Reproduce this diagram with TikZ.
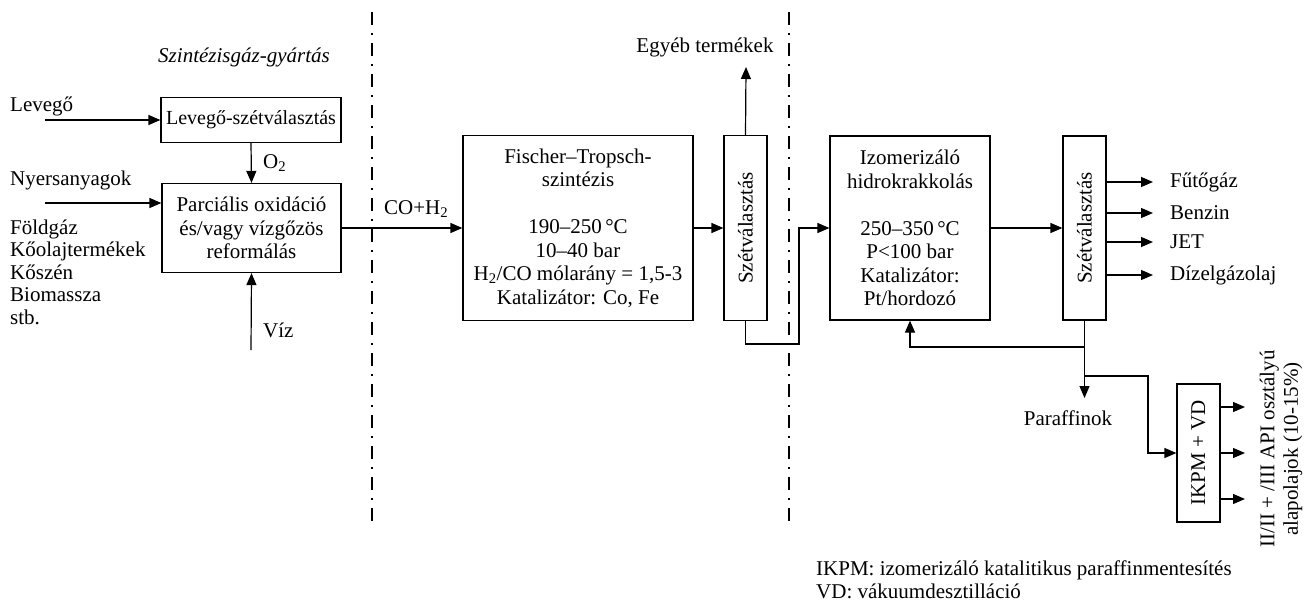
\documentclass[tikz,border=0pt]{standalone}
\usepackage{fontspec}
\setmainfont{Liberation Serif}
\usetikzlibrary{arrows.meta}
\newcommand\fsz{\fontsize{21bp}{23.5bp}\selectfont}
\begin{document}
\begin{tikzpicture}[x=1bp,y=-1bp,
  every node/.style={font=\fsz, inner sep=0pt},
  box/.style={draw, line width=1.2bp, align=center},
  flow/.style={line width=1.2bp, -{Triangle[length=12bp,width=10bp]}},
  plain/.style={line width=1.2bp},
  sepline/.style={line width=1.6bp, dash pattern=on 13bp off 8bp on 2bp off 8bp}]
\useasboundingbox (0,0) rectangle (1308,605);

% separators
\coordinate (s1a) at (372,12); \coordinate (s1b) at (372,523);
\coordinate (s2a) at (789,12); \coordinate (s2b) at (789,523);
\draw[sepline] (s1a) -- (s1b);
\draw[sepline] (s2a) -- (s2b);

% syngas section
\node[font=\fsz\itshape] (title) at (244,57) {Szintézisgáz-gyártás};
\node[box, minimum width=180bp, minimum height=45bp, font=\fontsize{20bp}{23.5bp}\selectfont] (lev) at (251,120) {Levegő-szétválasztás};
\node[box, minimum width=179bp, minimum height=89bp] (par) at (251.5,228) {Parciális oxidáció\\és/vagy vízgőzös\\reformálás};
\node[anchor=west] (tlev) at (10,106) {Levegő};
\coordinate (slev) at (45,120);
\draw[flow] (slev) -- (lev.west);
\node[anchor=west] (tnyer) at (10,180) {Nyersanyagok};
\coordinate (snyer) at (45,203);
\draw[flow] (snyer) -- (snyer -| par.west);
\node[anchor=west, align=left, font=\fontsize{21bp}{22.5bp}\selectfont] (tlist) at (10,272) {Földgáz\\Kőolajtermékek\\Kőszén\\Biomassza\\stb.};
\draw[flow] (lev.south) -- (par.north);
\node[anchor=west] (to2) at (263,163) {O\textsubscript{2}};
\coordinate (sviz) at (251,350);
\draw[flow] (sviz) -- (par.south);
\node[anchor=west] (tviz) at (263,330) {Víz};

% Fischer-Tropsch
\node[box, minimum width=230bp, minimum height=185bp] (ft) at (578,228) {Fischer–Tropsch-\\szintézis\\\mbox{}\\190–250\,°C\\10–40 bar\\H\textsubscript{2}/CO mólarány = 1,5-3\\Katalizátor: Co, Fe};
\draw[flow] (par.east) -- (par.east -| ft.west);
\node[anchor=west] (tco) at (384,209) {CO+H\textsubscript{2}};

\node[box, minimum width=43bp, minimum height=185bp] (sz1) at (745.5,228) {};
\node[rotate=90] (sz1t) at (sz1) {Szétválasztás};
\draw[flow] (ft.east) -- (sz1.west);
\node (tegy) at (705,47) {Egyéb termékek};
\coordinate (egy) at (746,67);
\draw[flow] (sz1.north) -- (egy);

% hydrocracking
\node[box, minimum width=160bp, minimum height=184bp] (izo) at (910,228) {Izomerizáló\\hidrokrakkolás\\\mbox{}\\250–350\,°C\\P<100 bar\\Katalizátor:\\Pt/hordozó};
\coordinate (b1) at (799,344);
\draw[flow] (sz1.south) |- (b1) |- (izo.west);

\node[box, minimum width=43bp, minimum height=184bp] (sz2) at (1084.5,228) {};
\node[rotate=90] (sz2t) at (sz2) {Szétválasztás};
\draw[flow] (izo.east) -- (sz2.west);

\coordinate (o1) at (1153,182);
\coordinate (o2) at (1153,213);
\coordinate (o3) at (1153,242);
\coordinate (o4) at (1153,275);
\draw[flow] (o1 -| sz2.east) -- (o1);
\draw[flow] (o2 -| sz2.east) -- (o2);
\draw[flow] (o3 -| sz2.east) -- (o3);
\draw[flow] (o4 -| sz2.east) -- (o4);
\node[anchor=west] (t1) at (1170,182) {Fűtőgáz};
\node[anchor=west] (t2) at (1170,213) {Benzin};
\node[anchor=west] (t3) at (1170,242) {JET};
\node[anchor=west] (t4) at (1170,275) {Dízelgázolaj};

% recycle and paraffins
\coordinate (r1) at (1084.5,347);
\draw[flow] (sz2.south) -- (r1) -| (izo.south);
\coordinate (pf) at (1084.5,398);
\draw[flow] (r1) -- (pf);
\node (tpf) at (1068,418) {Paraffinok};

\node[box, minimum width=43bp, minimum height=138bp] (ikpm) at (1198.5,453) {};
\node[rotate=90] (ikpmt) at (ikpm) {IKPM + VD};
\coordinate (br) at (1084.5,376);
\coordinate (b2) at (1148,453);
\draw[flow] (br) -| (b2) -- (ikpm.west);

\coordinate (p1) at (1245,407);
\coordinate (p2) at (1245,453);
\coordinate (p3) at (1245,499);
\draw[flow] (p1 -| ikpm.east) -- (p1);
\draw[flow] (p2 -| ikpm.east) -- (p2);
\draw[flow] (p3 -| ikpm.east) -- (p3);
\node[rotate=90, align=center] (tbase) at (1281,449) {II/II + /III API osztályú\\alapolajok (10-15\%)};

\node[anchor=west, align=left] (foot) at (816,580) {IKPM: izomerizáló katalitikus paraffinmentesítés\\VD: vákuumdesztilláció};
\end{tikzpicture}
\end{document}
